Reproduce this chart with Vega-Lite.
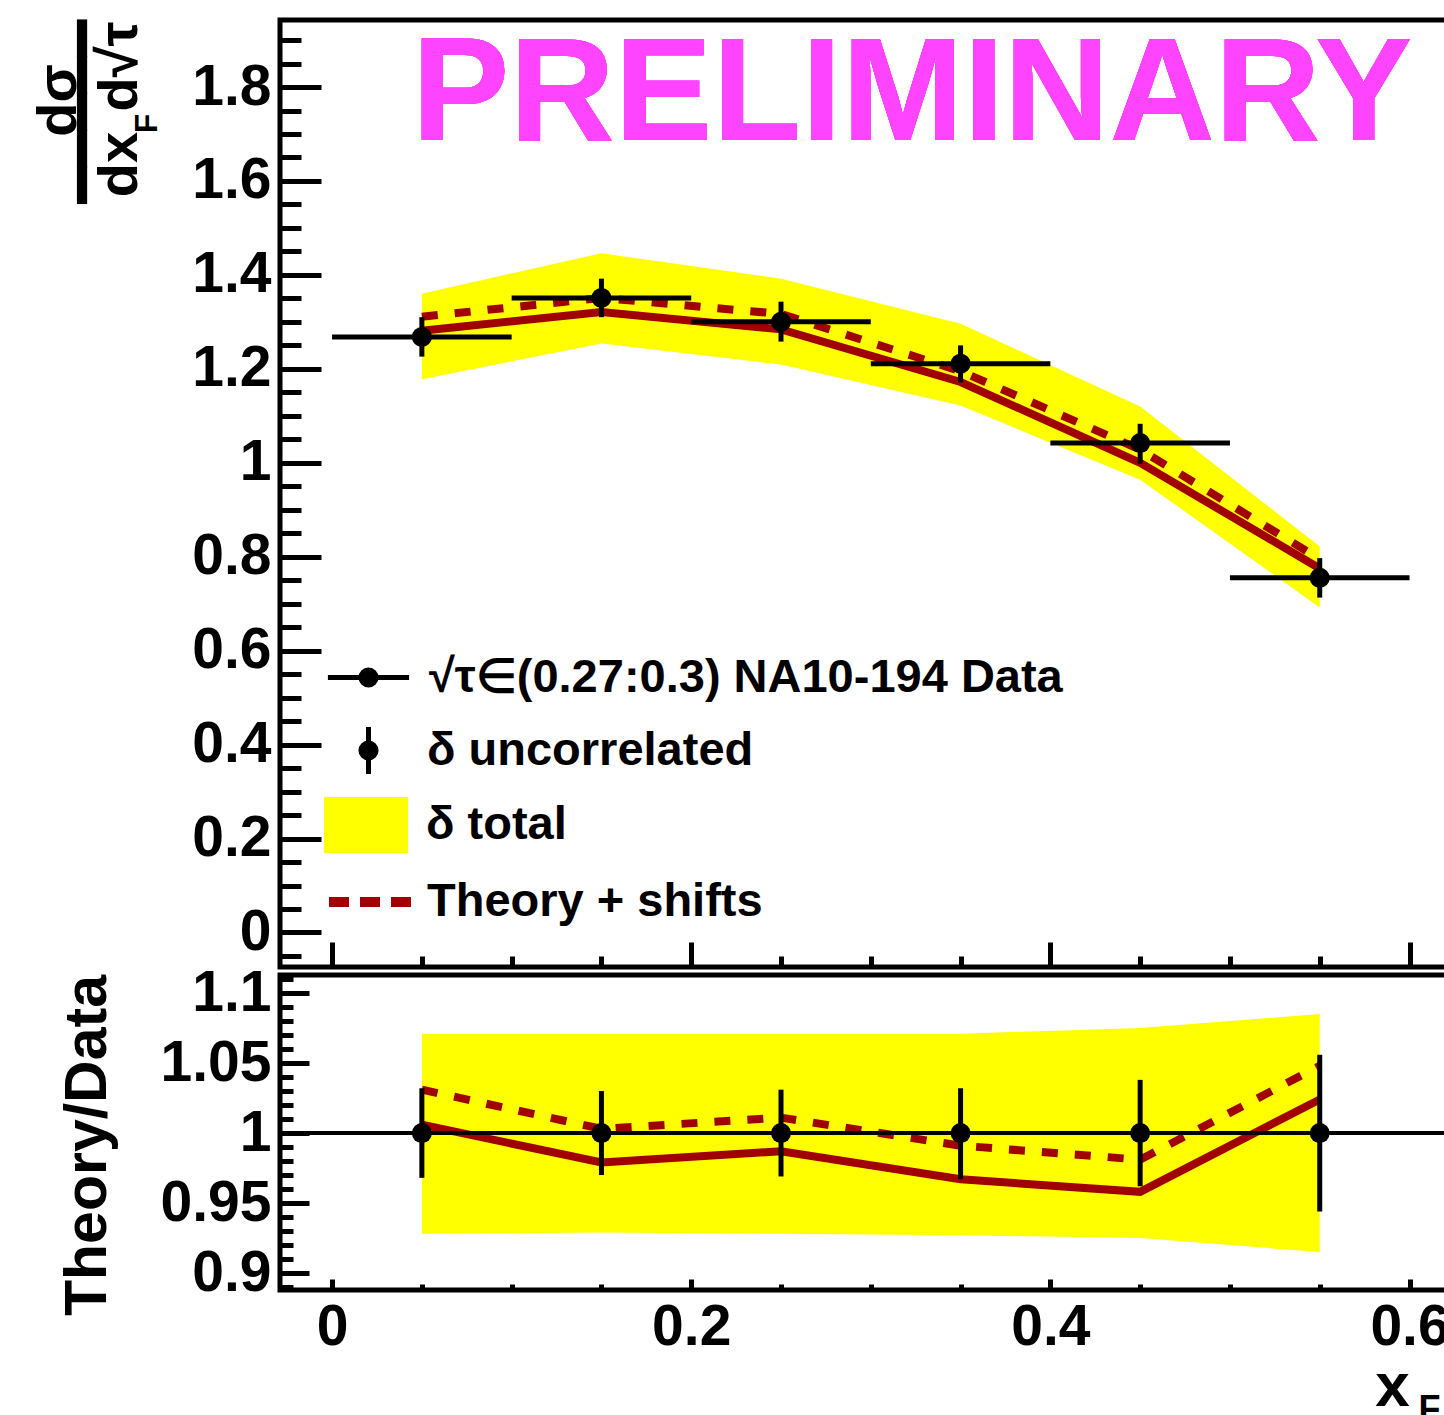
{
  "$schema": "https://vega.github.io/schema/vega-lite/v6.json",
  "background": "white",
  "padding": {"left": 27, "top": 8, "right": 0, "bottom": 0},
  "config": {
    "view": {"stroke": "black", "strokeWidth": 5},
    "font": "Liberation Sans",
    "axis": {"labelFont": "Liberation Sans", "titleFont": "Liberation Sans", "labelColor": "black", "titleColor": "black", "tickColor": "black", "grid": false, "domain": false},
    "legend": {"orient": "none", "padding": 0, "symbolSize": 3136, "labelOffset": 32, "labelLimit": 1200,
      "labelFont": "Liberation Sans", "labelFontSize": 47, "labelFontWeight": "bold", "labelColor": "black", "symbolOpacity": 1}
  },
  "datasets": {
    "bins": [
      {"xf": 0.05, "x_lo": 0.0, "x_hi": 0.1, "data": 1.268, "unc_lo": 1.226, "unc_hi": 1.310, "band_lo": 1.178, "band_hi": 1.360, "theory": 1.281, "shifted": 1.311, "r_data": 1, "r_lo": 0.968, "r_hi": 1.032, "rband_lo": 0.928, "rband_hi": 1.071, "r_theory": 1.006, "r_shifted": 1.031},
      {"xf": 0.15, "x_lo": 0.1, "x_hi": 0.2, "data": 1.351, "unc_lo": 1.310, "unc_hi": 1.392, "band_lo": 1.254, "band_hi": 1.446, "theory": 1.321, "shifted": 1.351, "r_data": 1, "r_lo": 0.970, "r_hi": 1.030, "rband_lo": 0.929, "rband_hi": 1.071, "r_theory": 0.979, "r_shifted": 1.003},
      {"xf": 0.25, "x_lo": 0.2, "x_hi": 0.3, "data": 1.300, "unc_lo": 1.258, "unc_hi": 1.343, "band_lo": 1.209, "band_hi": 1.392, "theory": 1.284, "shifted": 1.317, "r_data": 1, "r_lo": 0.969, "r_hi": 1.031, "rband_lo": 0.928, "rband_hi": 1.071, "r_theory": 0.987, "r_shifted": 1.011},
      {"xf": 0.35, "x_lo": 0.3, "x_hi": 0.4, "data": 1.211, "unc_lo": 1.171, "unc_hi": 1.250, "band_lo": 1.122, "band_hi": 1.296, "theory": 1.172, "shifted": 1.195, "r_data": 1, "r_lo": 0.967, "r_hi": 1.032, "rband_lo": 0.927, "rband_hi": 1.071, "r_theory": 0.967, "r_shifted": 0.991},
      {"xf": 0.45, "x_lo": 0.4, "x_hi": 0.5, "data": 1.042, "unc_lo": 0.998, "unc_hi": 1.083, "band_lo": 0.964, "band_hi": 1.120, "theory": 1.000, "shifted": 1.028, "r_data": 1, "r_lo": 0.962, "r_hi": 1.038, "rband_lo": 0.925, "rband_hi": 1.075, "r_theory": 0.958, "r_shifted": 0.981},
      {"xf": 0.55, "x_lo": 0.5, "x_hi": 0.6, "data": 0.755, "unc_lo": 0.713, "unc_hi": 0.797, "band_lo": 0.692, "band_hi": 0.822, "theory": 0.775, "shifted": 0.795, "r_data": 1, "r_lo": 0.944, "r_hi": 1.056, "rband_lo": 0.915, "rband_hi": 1.085, "r_theory": 1.024, "r_shifted": 1.048}
    ]
  },
  "vconcat": [
    {
      "width": 1178,
      "height": 947,
      "data": {"name": "bins"},
      "layer": [
        {
          "mark": {"type": "area", "opacity": 1},
          "encoding": {
            "x": {"field": "xf", "type": "quantitative", "scale": {"domain": [-0.029, 0.627], "nice": false, "zero": false},
              "axis": {"orient": "bottom", "values": [0, 0.05, 0.1, 0.15, 0.2, 0.25, 0.3, 0.35, 0.4, 0.45, 0.5, 0.55, 0.6], "labels": false, "title": null, "tickWidth": 5,
                "tickSize": {"condition": {"test": "abs(datum.value/0.2 - round(datum.value/0.2)) < 0.001", "value": -25}, "value": -11}}},
            "y": {"field": "band_lo", "type": "quantitative", "scale": {"domain": [-0.0735, 1.9427], "nice": false, "zero": false},
              "axis": {"orient": "left",
                "values": [-0.05, 0, 0.05, 0.1, 0.15, 0.2, 0.25, 0.3, 0.35, 0.4, 0.45, 0.5, 0.55, 0.6, 0.65, 0.7, 0.75, 0.8, 0.85, 0.9, 0.95, 1, 1.05, 1.1, 1.15, 1.2, 1.25, 1.3, 1.35, 1.4, 1.45, 1.5, 1.55, 1.6, 1.65, 1.7, 1.75, 1.8, 1.85, 1.9],
                "labelExpr": "abs(datum.value/0.2 - round(datum.value/0.2)) < 0.001 ? format(datum.value, '~g') : ''",
                "tickSize": {"condition": {"test": "abs(datum.value/0.2 - round(datum.value/0.2)) < 0.001", "value": -41}, "value": -21},
                "tickWidth": 5, "labelPadding": 50, "labelFontSize": 57, "labelFontWeight": "bold",
                "labelOverlap": false, "labelFlush": false, "labelBound": false,
                "title": "dσ", "titleAngle": -90, "titleAlign": "center", "titleBaseline": "alphabetic",
                "titleX": -205, "titleY": 80, "titleFontSize": 56, "titleFontWeight": "bold"}},
            "y2": {"field": "band_hi"},
            "color": {"datum": "δ total", "type": "nominal",
              "scale": {"domain": ["δ total"], "range": ["#ffff00"]},
              "legend": {"title": null, "legendX": 58, "legendY": 777, "labelOffset": 32, "symbolType": "M-1.5,-1H1.5V1H-1.5Z", "symbolStrokeWidth": 0, "symbolFillColor": "#ffff00"}}
          }
        },
        {
          "mark": {"type": "line", "color": "#a00000", "strokeWidth": 8},
          "encoding": {
            "x": {"field": "xf", "type": "quantitative", "axis": null},
            "y": {"field": "theory", "type": "quantitative",
              "axis": {"orient": "left", "labels": false, "ticks": false, "title": "━━━━━", "titleFont": "DejaVu Sans", "titleFontWeight": "normal", "titleFontSize": 61,
                "titleAngle": -90, "titleAlign": "center", "titleBaseline": "middle", "titleX": -196, "titleY": 91}}
          }
        },
        {
          "mark": {"type": "line", "strokeWidth": 8, "strokeDash": [16, 17]},
          "encoding": {
            "x": {"field": "xf", "type": "quantitative", "axis": null},
            "y": {"field": "shifted", "type": "quantitative",
              "axis": {"orient": "left", "labels": false, "ticks": false, "title": "dx", "titleFontSize": 56, "titleFontWeight": "bold",
                "titleAngle": -90, "titleAlign": "center", "titleBaseline": "alphabetic", "titleX": -144, "titleY": 144}},
            "color": {"datum": "Theory + shifts", "type": "nominal",
              "scale": {"domain": ["Theory + shifts"], "range": ["#a00000"]},
              "legend": {"title": null, "legendX": 58, "legendY": 849, "labelOffset": 23, "symbolType": "M-1.5,0H1.5", "symbolStrokeWidth": 10, "symbolDash": [20, 11], "symbolStrokeColor": "#a00000"}}
          }
        },
        {
          "mark": {"type": "rule", "strokeWidth": 5},
          "encoding": {
            "x": {"field": "x_lo", "type": "quantitative", "axis": null},
            "x2": {"field": "x_hi"},
            "y": {"field": "data", "type": "quantitative",
              "axis": {"orient": "left", "labels": false, "ticks": false, "title": "F", "titleFontSize": 32, "titleFontWeight": "bold",
                "titleAngle": -90, "titleAlign": "center", "titleBaseline": "alphabetic", "titleX": -124, "titleY": 103}},
            "color": {"datum": "√τ∈(0.27:0.3) NA10-194 Data", "type": "nominal",
              "scale": {"domain": ["√τ∈(0.27:0.3) NA10-194 Data"], "range": ["black"]},
              "legend": {"title": null, "legendX": 58, "legendY": 627, "labelOffset": 30, "symbolStrokeWidth": 5, "symbolFillColor": "black", "symbolStrokeColor": "black",
                "symbolType": "M-1.45,0H1.45 M-0.27,0A0.27,0.27 0 1,1 0.27,0A0.27,0.27 0 1,1 -0.27,0 M-0.09,0A0.09,0.09 0 1,1 0.09,0A0.09,0.09 0 1,1 -0.09,0"}}
          }
        },
        {
          "mark": {"type": "rule", "strokeWidth": 5},
          "encoding": {
            "x": {"field": "xf", "type": "quantitative", "axis": null},
            "y": {"field": "unc_lo", "type": "quantitative",
              "axis": {"orient": "left", "labels": false, "ticks": false, "title": "d√τ", "titleFontSize": 56, "titleFontWeight": "bold",
                "titleAngle": -90, "titleAlign": "center", "titleBaseline": "alphabetic", "titleX": -144, "titleY": 46}},
            "y2": {"field": "unc_hi"},
            "color": {"datum": "δ uncorrelated", "type": "nominal",
              "scale": {"domain": ["δ uncorrelated"], "range": ["black"]},
              "legend": {"title": null, "legendX": 58, "legendY": 700, "labelOffset": 28, "symbolStrokeWidth": 5, "symbolFillColor": "black", "symbolStrokeColor": "black",
                "symbolType": "M0,-0.84V0.84 M-0.27,0A0.27,0.27 0 1,1 0.27,0A0.27,0.27 0 1,1 -0.27,0 M-0.09,0A0.09,0.09 0 1,1 0.09,0A0.09,0.09 0 1,1 -0.09,0"}}
          }
        },
        {
          "mark": {"type": "point", "filled": true, "size": 400, "opacity": 1, "color": "black"},
          "encoding": {
            "x": {"field": "xf", "type": "quantitative", "axis": null},
            "y": {"field": "data", "type": "quantitative", "axis": null}
          }
        },
        {
          "mark": {"type": "text", "text": "PRELIMINARY", "color": "#ff44ff", "font": "Liberation Sans", "fontWeight": "bold", "fontSize": 146, "align": "left", "baseline": "alphabetic"},
          "encoding": {
            "x": {"datum": 0.0445, "type": "quantitative", "axis": null},
            "y": {"datum": 1.687, "type": "quantitative", "axis": null}
          }
        }
      ],
      "resolve": {"axis": {"x": "independent", "y": "independent"}, "scale": {"color": "independent"}, "legend": {"color": "independent"}}
    },
    {
      "width": 1178,
      "height": 315,
      "data": {"name": "bins"},
      "layer": [
        {
          "mark": {"type": "area", "color": "#ffff00", "opacity": 1},
          "encoding": {
            "x": {"field": "xf", "type": "quantitative", "scale": {"domain": [-0.029, 0.627], "nice": false, "zero": false},
              "axis": {"orient": "bottom", "values": [0, 0.05, 0.1, 0.15, 0.2, 0.25, 0.3, 0.35, 0.4, 0.45, 0.5, 0.55, 0.6],
                "labelExpr": "abs(datum.value/0.2 - round(datum.value/0.2)) < 0.001 ? format(datum.value, '~g') : ''",
                "tickSize": {"condition": {"test": "abs(datum.value/0.2 - round(datum.value/0.2)) < 0.001", "value": -11}, "value": -6},
                "tickWidth": 5, "labelPadding": 20, "labelFontSize": 57, "labelFontWeight": "bold",
                "labelOverlap": false, "labelFlush": false, "labelBound": false,
                "title": "x", "titleFontSize": 62, "titleFontWeight": "bold", "titleAlign": "center", "titleBaseline": "alphabetic",
                "titleX": 1112, "titleY": 115}},
            "y": {"field": "rband_lo", "type": "quantitative", "scale": {"domain": [0.8879, 1.1129], "nice": false, "zero": false},
              "axis": {"orient": "left",
                "values": [0.89, 0.9, 0.91, 0.92, 0.93, 0.94, 0.95, 0.96, 0.97, 0.98, 0.99, 1, 1.01, 1.02, 1.03, 1.04, 1.05, 1.06, 1.07, 1.08, 1.09, 1.1, 1.11],
                "labelExpr": "abs(datum.value/0.05 - round(datum.value/0.05)) < 0.001 ? format(datum.value, '~g') : ''",
                "tickSize": {"condition": {"test": "abs(datum.value/0.05 - round(datum.value/0.05)) < 0.001", "value": -29}, "value": -13},
                "tickWidth": 5, "labelPadding": 38, "labelFontSize": 57, "labelFontWeight": "bold",
                "labelOverlap": false, "labelFlush": false, "labelBound": false,
                "title": "Theory/Data", "titleAngle": -90, "titleAlign": "center", "titleBaseline": "alphabetic",
                "titleX": -175, "titleY": 170, "titleFontSize": 59, "titleFontWeight": "bold"}},
            "y2": {"field": "rband_hi"}
          }
        },
        {
          "mark": {"type": "line", "color": "#a00000", "strokeWidth": 8},
          "encoding": {
            "x": {"field": "xf", "type": "quantitative", "axis": null},
            "y": {"field": "r_theory", "type": "quantitative", "axis": null}
          }
        },
        {
          "mark": {"type": "line", "color": "#a00000", "strokeWidth": 8, "strokeDash": [16, 17]},
          "encoding": {
            "x": {"field": "xf", "type": "quantitative", "axis": null},
            "y": {"field": "r_shifted", "type": "quantitative", "axis": null}
          }
        },
        {
          "mark": {"type": "rule", "color": "black", "strokeWidth": 4},
          "encoding": {
            "y": {"datum": 1, "type": "quantitative", "axis": null}
          }
        },
        {
          "mark": {"type": "rule", "color": "black", "strokeWidth": 5},
          "encoding": {
            "x": {"field": "xf", "type": "quantitative",
              "axis": {"orient": "bottom", "labels": false, "ticks": false, "title": "F", "titleFontSize": 36, "titleFontWeight": "bold",
                "titleAlign": "left", "titleBaseline": "alphabetic", "titleX": 1138, "titleY": 130}},
            "y": {"field": "r_lo", "type": "quantitative", "axis": null},
            "y2": {"field": "r_hi"}
          }
        },
        {
          "mark": {"type": "point", "filled": true, "size": 400, "opacity": 1, "color": "black"},
          "encoding": {
            "x": {"field": "xf", "type": "quantitative", "axis": null},
            "y": {"field": "r_data", "type": "quantitative", "axis": null}
          }
        }
      ],
      "resolve": {"axis": {"x": "independent", "y": "independent"}}
    }
  ],
  "spacing": 8,
  "bounds": "flush",
  "resolve": {"scale": {"color": "independent"}, "legend": {"color": "independent"}}
}
